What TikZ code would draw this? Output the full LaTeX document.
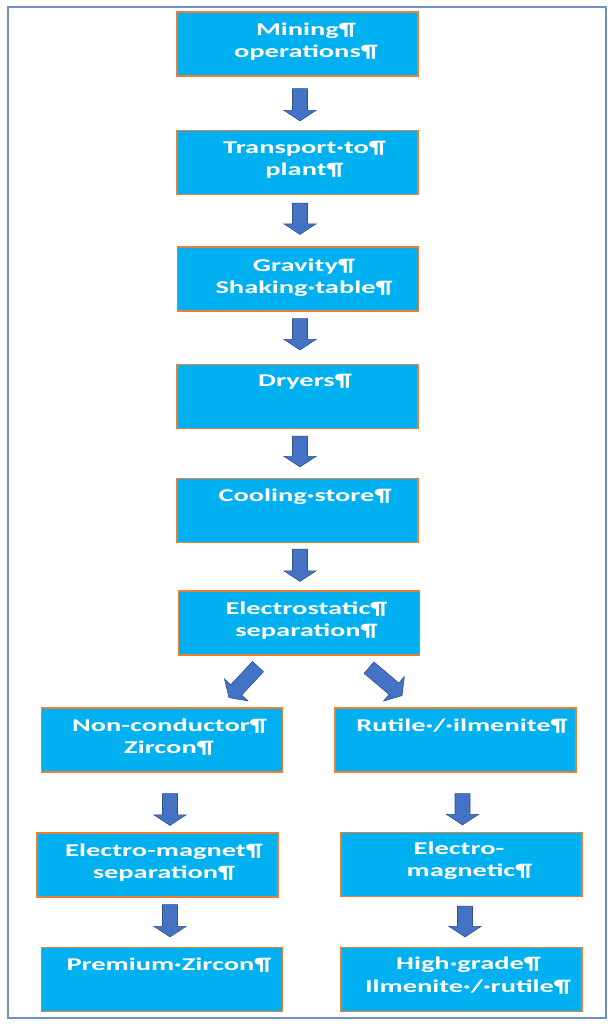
\documentclass[tikz,border=0pt]{standalone}
\usepackage{fontspec}
\newfontfamily\boxfont[FakeStretch=1.58]{Carlito}
\usetikzlibrary{calc}
\definecolor{boxfill}{HTML}{00B0F0}
\definecolor{boxedge}{HTML}{ED7D31}
\definecolor{arrowfill}{HTML}{4472C4}
\definecolor{arrowedge}{HTML}{2F528F}
\definecolor{frameblue}{HTML}{6F8FC9}
\tikzset{
  procbox/.style={draw=boxedge, fill=boxfill, line width=1.2pt, rectangle,
    minimum width=241pt, minimum height=64pt, inner sep=0pt},
  txt/.style={text=white, font=\boxfont\bfseries\fontsize{18}{22}\selectfont,
    inner sep=0pt, anchor=base},
  blockarrow/.style={draw=arrowedge, fill=arrowfill, line width=0.6pt, line join=miter,
    to path={let \p1=($(\tikztotarget)-(\tikztostart)$), \n1={atan2(\y1,\x1)},
      \n2={veclen(\x1,\y1)} in
      -- ($(\tikztostart)+(\n1+90:7.5pt)$) -- ++(\n1:{\n2-10.5pt}) -- ++(\n1+90:8.5pt)
      -- (\tikztotarget)
      -- ($(\tikztostart)+(\n1:{\n2-10.5pt})+(\n1-90:16pt)$) -- ++(\n1+90:8.5pt)
      -- ($(\tikztostart)+(\n1-90:7.5pt)$) -- cycle}}
}
\begin{document}
\begin{tikzpicture}[x=1pt,y=-1pt]
\useasboundingbox (0,0) rectangle (612,1024);
\fill[white] (0,0) rectangle (612,1024);
\draw[frameblue, line width=2pt] (8,7) rectangle (606,1018);

% boxes
\node[procbox] (b1) at (297.5,44) {};
\node[procbox] (b2) at (297.5,162.5) {};
\node[procbox] (b3) at (298,279) {};
\node[procbox] (b4) at (297.5,396.5) {};
\node[procbox] (b5) at (297.5,510.5) {};
\node[procbox] (b6) at (299,623) {};
\node[procbox] (b7) at (162,740) {};
\node[procbox] (b8) at (455.5,740) {};
\node[procbox] (b9) at (157.5,865) {};
\node[procbox] (b10) at (461.5,864.5) {};
\node[procbox] (b11) at (162,979.5) {};
\node[procbox] (b12) at (461.5,979.5) {};

% texts
\node[txt] (t1a) at ($(b1.north)+(8.5,24)$) {Mining¶};
\node[txt] (t1b) at ($(b1.north)+(8.5,46)$) {operations¶};
\node[txt] (t2a) at ($(b2.north)+(7,24)$) {Transport·to¶};
\node[txt] (t2b) at ($(b2.north)+(7,46)$) {plant¶};
\node[txt] (t3a) at ($(b3.north)+(6,25)$) {Gravity¶};
\node[txt] (t3b) at ($(b3.north)+(6,47)$) {Shaking·table¶};
\node[txt] (t4a) at ($(b4.north)+(7.5,23)$) {Dryers¶};
\node[txt] (t5a) at ($(b5.north)+(7.5,24)$) {Cooling·store¶};
\node[txt] (t6a) at ($(b6.north)+(7.5,24)$) {Electrostatic¶};
\node[txt] (t6b) at ($(b6.north)+(7.5,46)$) {separation¶};
\node[txt] (t7a) at ($(b7.north)+(7.5,24)$) {Non-conductor¶};
\node[txt] (t7b) at ($(b7.north)+(7,46)$) {Zircon¶};
\node[txt] (t8a) at ($(b8.north)+(6.5,24)$) {Rutile·/·ilmenite¶};
\node[txt] (t9a) at ($(b9.north)+(6.5,24)$) {Electro-magnet¶};
\node[txt] (t9b) at ($(b9.north)+(6.5,46)$) {separation¶};
\node[txt] (t10a) at ($(b10.north)+(-2.5,23)$) {Electro-};
\node[txt] (t10b) at ($(b10.north)+(8,45)$) {magnetic¶};
\node[txt] (t11a) at ($(b11.north)+(7,24)$) {Premium·Zircon¶};
\node[txt] (t12a) at ($(b12.north)+(7,23)$) {High·grade¶};
\node[txt] (t12b) at ($(b12.north)+(6.5,46)$) {Ilmenite·/·rutile¶};

% arrow end points
\coordinate (a1s) at ($(b1.south)+(2.5,12)$);  \coordinate (a1e) at ($(b2.north)+(2.5,-9)$);
\coordinate (a2s) at ($(b2.south)+(2.5,8)$);   \coordinate (a2e) at ($(b3.north)+(2,-12)$);
\coordinate (a3s) at ($(b3.south)+(2,7)$);     \coordinate (a3e) at ($(b4.north)+(2.5,-14)$);
\coordinate (a4s) at ($(b4.south)+(2.5,7)$);   \coordinate (a4e) at ($(b5.north)+(2.5,-11)$);
\coordinate (a5s) at ($(b5.south)+(2.5,6)$);   \coordinate (a5e) at ($(b6.north)+(1,-9)$);
\coordinate (d1s) at ($(b6.south)+(-41,11)$);  \coordinate (d1e) at ($(b6.south)+(-70,42)$);
\coordinate (d2s) at ($(b6.south)+(70,12)$);   \coordinate (d2e) at ($(b6.south)+(103,40)$);
\coordinate (a6s) at ($(b7.south)+(8,21)$);    \coordinate (a6e) at ($(b9.north)+(12.5,-7)$);
\coordinate (a7s) at ($(b9.south)+(12.5,7)$);  \coordinate (a7e) at ($(b11.north)+(8,-10)$);
\coordinate (a8s) at ($(b8.south)+(7,21)$);    \coordinate (a8e) at ($(b10.north)+(1,-7)$);
\coordinate (a9s) at ($(b10.south)+(3.5,9)$);  \coordinate (a9e) at ($(b12.north)+(3.5,-10)$);

\foreach \s/\e in {a1s/a1e,a2s/a2e,a3s/a3e,a4s/a4e,a5s/a5e,d1s/d1e,d2s/d2e,a6s/a6e,a7s/a7e,a8s/a8e,a9s/a9e}
  \path[blockarrow] (\s) to (\e);
\end{tikzpicture}
\end{document}
